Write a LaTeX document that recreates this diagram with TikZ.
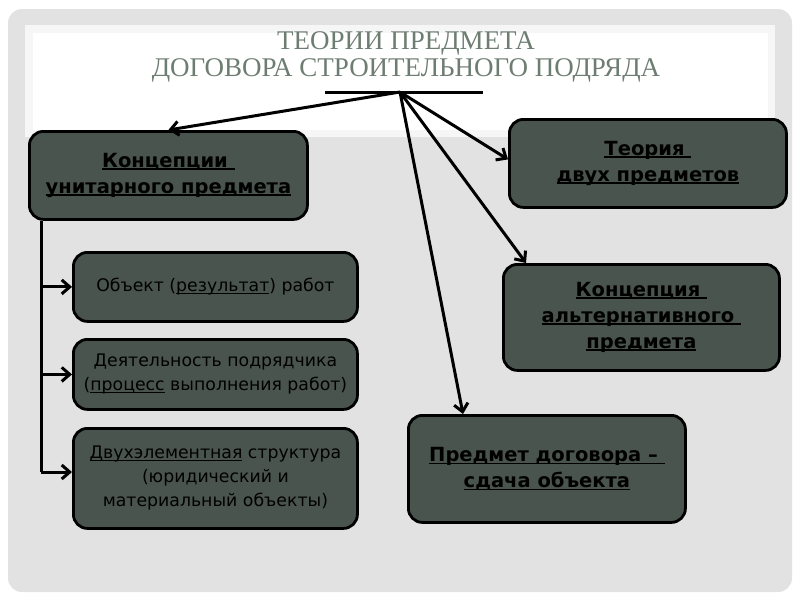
\documentclass[tikz,border=0pt]{standalone}
\usepackage{fontspec}
\setmainfont{DejaVu Sans}
\newfontfamily\titlefont{Liberation Serif}
\usepackage{xcolor}
\usetikzlibrary{positioning, arrows.meta, calc}
\definecolor{slidegray}{HTML}{E2E2E2}
\definecolor{bandgray}{HTML}{F6F6F6}
\definecolor{boxfill}{HTML}{4A544E}
\definecolor{titlegray}{HTML}{6E7D72}
% underline at a fixed depth below the baseline
\newcommand{\ulword}[1]{\setbox0\hbox{#1}\rlap{\rule[-2.5pt]{\wd0}{1.5pt}}\box0\relax}

\begin{document}
\begin{tikzpicture}[
    x=1pt, y=-1pt,
    every node/.style={font=\fontsize{17.3}{24}\selectfont},
    box/.style={rectangle, draw=black, line width=2.8pt, rounded corners=14pt, fill=boxfill,
        align=center, text=black, anchor=north west, inner sep=0pt},
    head/.style={box, font=\fontsize{19.5}{26}\selectfont\bfseries},
    arr/.style={-{Straight Barb[length=8pt, width=14pt]}, line width=3pt},
]
    % --- Slide background ---
    \useasboundingbox (0,0) rectangle (800,600);
    \fill[white] (0,0) rectangle (800,600);
    \fill[slidegray, rounded corners=14pt] (8,9) rectangle (792,592);
    \fill[bandgray] (25,25) rectangle (775,137);
    \fill[white] (33,33) rectangle (768,130);

    % --- Title ---
    \node[font=\titlefont\fontsize{27}{27}\selectfont, text=titlegray, align=center] (title) at (406,57)
        {ТЕОРИИ ПРЕДМЕТА\\ДОГОВОРА СТРОИТЕЛЬНОГО ПОДРЯДА};
    \coordinate (barL) at (325,92);
    \coordinate (barR) at (483,92);
    \coordinate (hub)  at (400,92);
    \draw[line width=3pt] (barL) -- (barR);

    % --- Left column: unitary subject and its parts ---
    \node[head, minimum width=278pt, minimum height=88pt] (unit) at (28,130)
        {\ulword{Концепции\ }\\\ulword{унитарного предмета}};
    \node[box, minimum width=284pt, minimum height=69pt] (obj) at (72,251)
        {Объект (\ulword{результат}) работ};
    \node[box, minimum width=284pt, minimum height=70pt] (proc) at (72,338)
        {Деятельность подрядчика\\(\ulword{процесс} выполнения работ)};
    \node[box, minimum width=284pt, minimum height=100pt] (dual) at (72,427)
        {\ulword{Двухэлементная} структура\\(юридический и\\материальный объекты)};

    % --- Right column: other theories ---
    \node[head, minimum width=277pt, minimum height=88pt] (two) at (508,118)
        {\ulword{Теория\ }\\\ulword{двух предметов}};
    \node[head, minimum width=276pt, minimum height=106pt] (alt) at (502,263)
        {\ulword{Концепция\ }\\\ulword{альтернативного\ }\\\ulword{предмета}};
    \node[head, minimum width=277pt, minimum height=107pt] (hand) at (407,414)
        {\ulword{Предмет договора --\ }\\\ulword{сдача объекта}};

    % --- Wiring from the title ---
    \draw[arr] (hub) -- (unit.north);
    \draw[arr] (hub) -- ($(two.west)+(0,-4)$);
    \draw[arr] (hub) -- ($(alt.north west)+(24,0)$);
    \draw[arr] (hub) -- ($(hand.north west)+(56,0)$);

    % --- Left spine ---
    \coordinate (spine) at ($(unit.south west)+(13,0)$);
    \coordinate (dualin) at (72,472);
    \draw[line width=3pt] (spine) -- (spine |- dualin);
    \draw[arr] (spine |- obj.west)  -- (obj.west);
    \draw[arr] (spine |- proc.west) -- (proc.west);
    \draw[arr] (spine |- dualin) -- (dualin);
\end{tikzpicture}
\end{document}
